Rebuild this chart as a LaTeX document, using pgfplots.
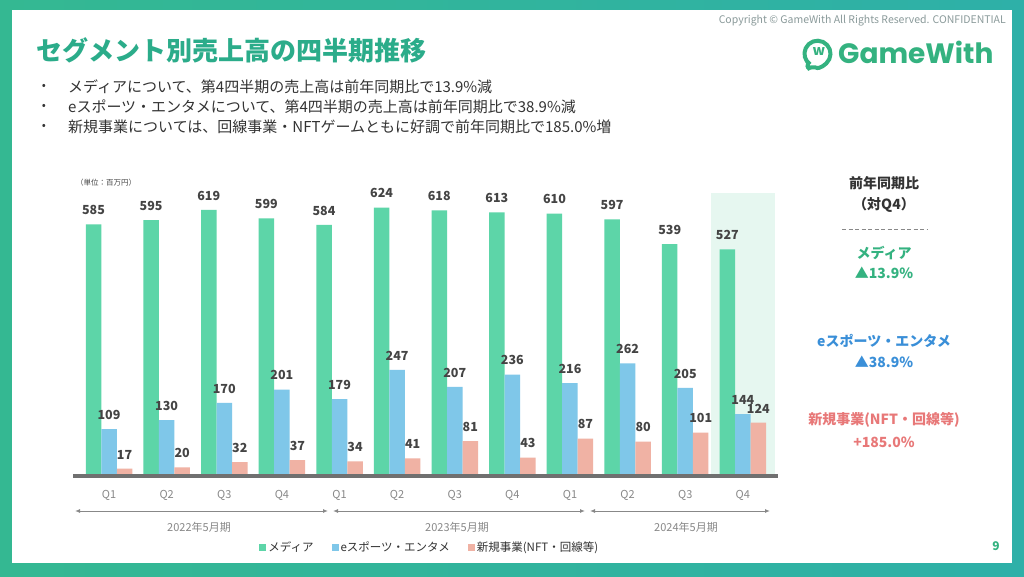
\documentclass[border=0pt]{standalone}
\usepackage{fontspec}
\setmainfont{Noto Sans CJK JP}
\newfontfamily\logofont{Poppins}
\usepackage{pgfplots}
\pgfplotsset{compat=1.18}
\usetikzlibrary{arrows.meta}
\definecolor{tealL}{RGB}{52,184,146}
\definecolor{tealR}{RGB}{46,176,168}
\definecolor{cMedia}{RGB}{93,213,168}
\definecolor{cEsp}{RGB}{127,199,233}
\definecolor{cNew}{RGB}{240,178,164}
\definecolor{hl}{RGB}{230,247,240}
\definecolor{baseg}{RGB}{112,112,112}
\definecolor{lblg}{RGB}{68,68,68}
\definecolor{ticg}{RGB}{136,136,136}
\definecolor{titleg}{RGB}{43,172,138}
\definecolor{txtd}{RGB}{51,51,51}
\definecolor{copyg}{RGB}{138,154,154}
\definecolor{pGreen}{RGB}{52,178,128}
\definecolor{pBlue}{RGB}{58,143,216}
\definecolor{pPink}{RGB}{232,120,120}
\begin{document}
\begin{tikzpicture}[x=1pt,y=1pt]
% frame
\shade[left color=tealL, right color=tealR] (0,0) rectangle (1024,576);
\fill[white] (12,13) rectangle (1012,566);
% header
\node[anchor=east, text=copyg, font=\fontsize{10.5}{12}\selectfont, inner sep=0] at (1006,555) {Copyright © GameWith All Rights Reserved. CONFIDENTIAL};
\node[anchor=west, text=titleg, font=\bfseries\fontsize{26}{30}\selectfont, inner sep=0] at (36,526) {セグメント別売上高の四半期推移};
\foreach \yy/\lt in {489/{メディアについて、第4四半期の売上高は前年同期比で13.9\%減},
                     469/{eスポーツ・エンタメについて、第4四半期の売上高は前年同期比で38.9\%減},
                     449/{新規事業については、回線事業・NFTゲームともに好調で前年同期比で185.0\%増}}{
  \node[anchor=west, text=txtd, font=\fontsize{15}{18}\selectfont, inner sep=0] at (68,\yy) {\lt};
  \node[text=txtd, font=\fontsize{12}{14}\selectfont, inner sep=0] at (44,\yy) {•};
}
% logo
\draw[pGreen, line width=4pt, rounded corners=6pt] (808,512) -- (806,506) -- (812,510.5) arc[start angle=-115, end angle=235, radius=13];
\node[text=pGreen, font=\bfseries\fontsize{14}{16}\selectfont, inner sep=0] at (819,524) {w};
\node[anchor=west, text=pGreen, font=\logofont\bfseries\fontsize{28}{32}\selectfont, inner sep=0] at (838,524) {GameWith};
% unit
\node[anchor=west, text=lblg, font=\fontsize{7.5}{9}\selectfont, inner sep=0] at (76,393) {（単位：百万円）};
% highlight
\fill[hl] (711,100) rectangle (775,383);
\begin{axis}[
  at={(73pt,100pt)}, anchor=south west,
  scale only axis, width=705pt, height=301pt,
  xmin=-0.625, xmax=11.61, ymin=0, ymax=700,
  axis line style={draw=none}, major tick length=0pt,
  ytick=\empty,
  xtick=data,
  xticklabels={Q1,Q2,Q3,Q4,Q1,Q2,Q3,Q4,Q1,Q2,Q3,Q4},
  xticklabel style={text=ticg, font=\fontsize{11}{13}\selectfont, yshift=-11pt},
  ybar=0pt, bar width=15.5pt,
  clip=false,
  /pgf/number format/assume math mode=true,
  nodes near coords,
  every node near coord/.append style={text=lblg, font=\bfseries\fontsize{12.5}{14}\selectfont, yshift=6pt},
  legend columns=3,
  legend style={at={(0.506,-0.236)}, anchor=center, draw=none, fill=none,
    font=\fontsize{11.5}{13}\selectfont, text=txtd,
    /tikz/every even column/.append style={column sep=16pt}},
]
\addplot[fill=cMedia, draw=none, legend image code/.code={\fill[cMedia] (0pt,-3.5pt) rectangle (7pt,3.5pt);}] coordinates {(0,585) (1,595) (2,619) (3,599) (4,584) (5,624) (6,618) (7,613) (8,610) (9,597) (10,539) (11,527)};
\addlegendentry{メディア}
\addplot[fill=cEsp, draw=none, legend image code/.code={\fill[cEsp] (0pt,-3.5pt) rectangle (7pt,3.5pt);}] coordinates {(0,109) (1,130) (2,170) (3,201) (4,179) (5,247) (6,207) (7,236) (8,216) (9,262) (10,205) (11,144)};
\addlegendentry{eスポーツ・エンタメ}
\addplot[fill=cNew, draw=none, legend image code/.code={\fill[cNew] (0pt,-3.5pt) rectangle (7pt,3.5pt);}] coordinates {(0,17) (1,20) (2,32) (3,37) (4,34) (5,41) (6,81) (7,43) (8,87) (9,80) (10,101) (11,124)};
\addlegendentry{新規事業(NFT・回線等)}
\draw[baseg, line width=4pt] (axis cs:-0.625,0) -- (axis cs:11.61,0);
\end{axis}
% period arrows
\draw[ticg, line width=1pt, {Latex[length=5pt,width=4pt]}-{Latex[length=5pt,width=4pt]}] (75,65) -- (328,65);
\draw[ticg, line width=1pt, {Latex[length=5pt,width=4pt]}-{Latex[length=5pt,width=4pt]}] (333,65) -- (585,65);
\draw[ticg, line width=1pt, {Latex[length=5pt,width=4pt]}-{Latex[length=5pt,width=4pt]}] (590,65) -- (770,65);
\node[text=ticg, font=\fontsize{11}{13}\selectfont] at (199,49) {2022年5月期};
\node[text=ticg, font=\fontsize{11}{13}\selectfont] at (457,49) {2023年5月期};
\node[text=ticg, font=\fontsize{11}{13}\selectfont] at (686,49) {2024年5月期};
% right panel
\node[text=txtd, font=\bfseries\fontsize{14}{16}\selectfont] at (884,393) {前年同期比};
\node[text=txtd, font=\bfseries\fontsize{14}{16}\selectfont] at (884,371) {（対Q4）};
\draw[ticg, line width=1pt, dash pattern=on 4pt off 2.5pt] (842,346) -- (928,346);
\node[text=pGreen, font=\bfseries\fontsize{14}{16}\selectfont] at (884,323) {メディア};
\node[text=pGreen, font=\bfseries\fontsize{14}{16}\selectfont] at (884,303) {▲13.9\%};
\node[text=pBlue, font=\bfseries\fontsize{14}{16}\selectfont] at (884,235) {eスポーツ・エンタメ};
\node[text=pBlue, font=\bfseries\fontsize{14}{16}\selectfont] at (884,214) {▲38.9\%};
\node[text=pPink, font=\bfseries\fontsize{14}{16}\selectfont] at (884,156) {新規事業(NFT・回線等)};
\node[text=pPink, font=\bfseries\fontsize{14}{16}\selectfont] at (884,134) {+185.0\%};
% page number
\node[text=pGreen, font=\bfseries\fontsize{12}{14}\selectfont] at (996,30) {9};
\end{tikzpicture}
\end{document}
